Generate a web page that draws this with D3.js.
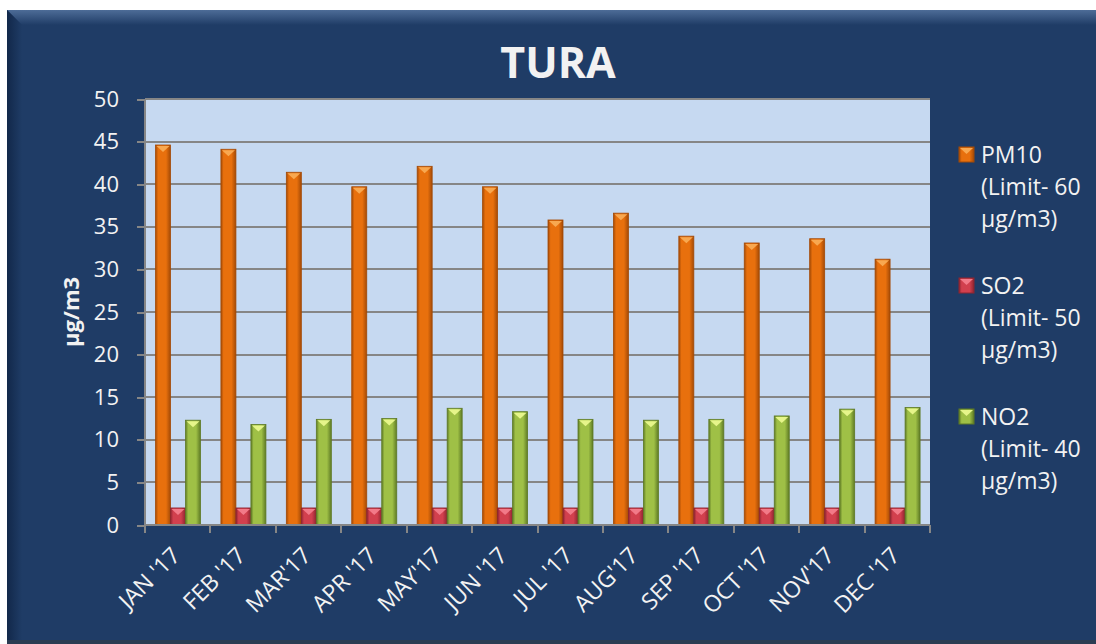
<!DOCTYPE html>
<head>
<meta charset="utf-8">
<title>TURA</title>
<script src="https://d3js.org/d3.v7.min.js"></script>
<style>
body { margin: 0; background: #ffffff; }
text { font-family: "Open Sans", "DejaVu Sans", sans-serif; fill: #f2f2f2; }
.axis path, .axis line { stroke: #868686; stroke-width: 2; shape-rendering: crispEdges; }
.grid line { stroke: #868686; stroke-width: 2; shape-rendering: crispEdges; }
</style>
</head>
<body>
<div id="container"></div>
<script>

//------------------------DATA-------------------------//
var months = ["JAN '17", "FEB '17", "MAR'17", "APR '17", "MAY'17", "JUN '17",
              "JUL '17", "AUG'17", "SEP '17", "OCT '17", "NOV'17", "DEC '17"];
var pm10 = [44.6, 44.1, 41.4, 39.7, 42.1, 39.7, 35.8, 36.6, 33.9, 33.1, 33.6, 31.2];
var so2  = [2, 2, 2, 2, 2, 2, 2, 2, 2, 2, 2, 2];
var no2  = [12.3, 11.8, 12.4, 12.5, 13.7, 13.3, 12.4, 12.3, 12.4, 12.8, 13.6, 13.8];
var seriesNames = ["PM10", "SO2", "NO2"];
var seriesLimits = ["(Limit- 60", "(Limit- 50", "(Limit- 40"];
var yTicks = [0, 5, 10, 15, 20, 25, 30, 35, 40, 45, 50];

var colors = [
  {dark: "#a44a06", mid: "#e8700d", top: "#f8a850"},
  {dark: "#8e2430", mid: "#d2404e", top: "#f27a88"},
  {dark: "#5e7a25", mid: "#9fc046", top: "#e6f58a"}
];

//------------------------SVG-------------------------//
var W = 1096, H = 644;
var margin = {top: 99, right: 166, bottom: 119, left: 145};
var width = W - margin.left - margin.right,
    height = H - margin.top - margin.bottom;

var root = d3.select("#container").append("svg")
    .attr("width", W).attr("height", H);

var defs = root.append("defs");
colors.forEach(function(c, i) {
  var g = defs.append("linearGradient").attr("id", "bar" + i)
      .attr("x1", "0").attr("x2", "1").attr("y1", "0").attr("y2", "0");
  g.append("stop").attr("offset", "0").attr("stop-color", c.dark);
  g.append("stop").attr("offset", "0.18").attr("stop-color", c.mid);
  g.append("stop").attr("offset", "0.7").attr("stop-color", c.mid);
  g.append("stop").attr("offset", "1").attr("stop-color", c.dark);
});
var tg = defs.append("linearGradient").attr("id", "topband")
    .attr("x1", "0").attr("x2", "0").attr("y1", "0").attr("y2", "1");
tg.append("stop").attr("offset", "0").attr("stop-color", "#4d6c97");
tg.append("stop").attr("offset", "1").attr("stop-color", "#1f3c66");
var lg = defs.append("linearGradient").attr("id", "leftband")
    .attr("x1", "0").attr("x2", "1").attr("y1", "0").attr("y2", "0");
lg.append("stop").attr("offset", "0").attr("stop-color", "#12284a");
lg.append("stop").attr("offset", "1").attr("stop-color", "#1f3c66");

// background panel with bevel
root.append("rect").attr("x", 7).attr("y", 10).attr("width", W - 7).attr("height", 631)
    .attr("fill", "#1f3c66");
root.append("polygon")
    .attr("points", "7,10 " + W + ",10 " + W + ",25 22,25")
    .attr("fill", "url(#topband)");
root.append("polygon")
    .attr("points", "7,10 22,25 22,641 7,641")
    .attr("fill", "url(#leftband)");
root.append("rect").attr("x", 7).attr("y", 640).attr("width", W - 7).attr("height", 4)
    .attr("fill", "#2b3c52");

var svg = root.append("g")
    .attr("transform", "translate(" + margin.left + "," + margin.top + ")");

//------------------------SCALES-------------------------//
var x0 = d3.scaleBand().domain(months).range([0, width]).paddingInner(0).paddingOuter(0);
var x1 = d3.scaleBand().domain(seriesNames).range([10.5, 10.5 + 45]);
var y = d3.scaleLinear().domain([0, 50]).range([height, 0]);

// plot area
svg.append("rect").attr("width", width).attr("height", height).attr("fill", "#c6d9f1");

svg.append("g").attr("class", "grid")
  .selectAll("line").data(yTicks.slice(1)).enter().append("line")
    .attr("x1", 0).attr("x2", width)
    .attr("y1", function(d) { return y(d); }).attr("y2", function(d) { return y(d); });

//------------------------BARS-------------------------//
var data = months.map(function(m, i) { return {m: m, v: [pm10[i], so2[i], no2[i]]}; });

var groups = svg.selectAll(".month").data(data).enter().append("g")
    .attr("transform", function(d) { return "translate(" + x0(d.m) + ",0)"; });

groups.selectAll("rect.bar").data(function(d) {
    return d.v.map(function(v, i) { return {s: seriesNames[i], i: i, v: v}; });
  }).enter().append("rect")
    .attr("class", "bar")
    .attr("x", function(d) { return x1(d.s); })
    .attr("y", function(d) { return y(d.v); })
    .attr("width", x1.bandwidth())
    .attr("height", function(d) { return height - y(d.v); })
    .attr("fill", function(d) { return "url(#bar" + d.i + ")"; })
    .attr("stroke", function(d) { return colors[d.i].dark; })
    .attr("stroke-width", 0.8);

// pyramid-like light caps
groups.selectAll("polygon.cap").data(function(d) {
    return d.v.map(function(v, i) { return {s: seriesNames[i], i: i, v: v}; });
  }).enter().append("polygon")
    .attr("points", function(d) {
      var xl = x1(d.s) + 1, xr = x1(d.s) + x1.bandwidth() - 1, t = y(d.v) + 1;
      return xl + "," + t + " " + xr + "," + t + " " + ((xl + xr) / 2) + "," + (t + 6);
    })
    .attr("fill", function(d) { return colors[d.i].top; });

//------------------------AXES-------------------------//
var yaxis = d3.axisLeft(y).tickValues(yTicks).tickSize(8).tickPadding(18);
var gy = svg.append("g").attr("class", "axis").call(yaxis);
gy.selectAll("text").style("font-size", "22px").attr("fill", "#f2f2f2");
gy.select(".domain").attr("d", "M0," + height + "V0");

var xaxis = d3.axisBottom(x0).tickSize(0).tickFormat("");
var gx = svg.append("g").attr("class", "axis")
    .attr("transform", "translate(0," + height + ")").call(xaxis);
gx.select(".domain").attr("d", "M0,0H" + width);
gx.selectAll(".xt").data(d3.range(months.length + 1)).enter().append("line")
    .attr("x1", function(i) { return i * x0.step(); })
    .attr("x2", function(i) { return i * x0.step(); })
    .attr("y1", 0).attr("y2", 8);

svg.selectAll(".xlabel").data(months).enter().append("text")
    .attr("class", "xlabel")
    .attr("text-anchor", "end")
    .style("font-size", "23px")
    .attr("transform", function(d) {
      return "translate(" + (x0(d) + x0.bandwidth() / 2 + 4) + "," + (height + 32) + ") rotate(-45)";
    })
    .text(function(d) { return d; });

//------------------------TITLES-------------------------//
root.append("text")
    .attr("x", 558).attr("y", 78)
    .attr("text-anchor", "middle")
    .style("font-size", "43px").style("font-weight", "bold")
    .text("TURA");

root.append("text")
    .attr("transform", "translate(79," + (margin.top + height / 2) + ") rotate(-90)")
    .attr("text-anchor", "middle")
    .style("font-size", "22px").style("font-weight", "bold")
    .text("µg/m3");

//------------------------LEGEND-------------------------//
var legend = root.selectAll(".legend").data(seriesNames).enter().append("g")
    .attr("transform", function(d, i) { return "translate(959," + (147 + i * 131) + ")"; });

legend.append("rect")
    .attr("width", 15).attr("height", 15)
    .attr("fill", function(d, i) { return "url(#bar" + i + ")"; })
    .attr("stroke", function(d, i) { return colors[i].dark; });
legend.append("polygon")
    .attr("points", "1,1 14,1 7.5,7")
    .attr("fill", function(d, i) { return colors[i].top; });

var lt = legend.append("text")
    .attr("x", 22).attr("y", 16)
    .style("font-size", "23px");
lt.append("tspan").attr("x", 22).attr("dy", 0).text(function(d) { return d; });
lt.append("tspan").attr("x", 22).attr("dy", 32).text(function(d, i) { return seriesLimits[i]; });
lt.append("tspan").attr("x", 22).attr("dy", 32).text("µg/m3)");

</script>
</body>
